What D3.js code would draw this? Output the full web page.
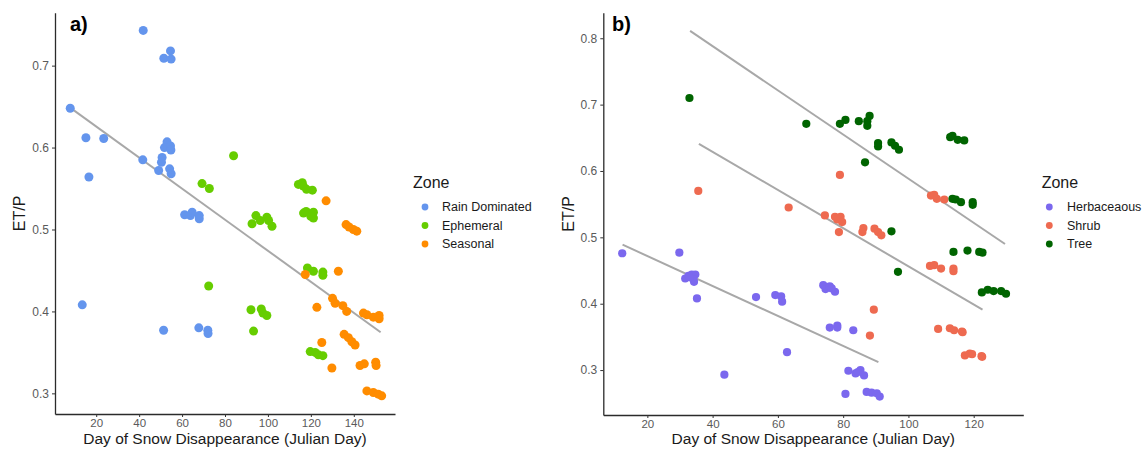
<!DOCTYPE html>
<html>
<head>
<meta charset="utf-8">
<script src="https://cdn.jsdelivr.net/npm/d3@7"></script>
<style>
  html, body { margin: 0; padding: 0; background: #fff; }
  svg { display: block; font-family: "Liberation Sans", Arial, sans-serif; }
</style>
</head>
<body>
<svg id="chart" width="1143" height="450"></svg>
<script>
// ---- Panel a: hydrologic zones, [day of snow disappearance, ET/P] ----
const rainDominated = [
  [7.9,0.648],[15.2,0.612],[23.5,0.611],[16.6,0.564],[13.5,0.408],[41.9,0.743],
  [41.7,0.585],[51.4,0.377],[51.5,0.709],[54.6,0.718],[54.9,0.708],[53.0,0.607],
  [51.8,0.600],[54.6,0.602],[54.8,0.597],[50.7,0.588],[50.4,0.582],[49.1,0.572],
  [54.2,0.574],[54.9,0.568],[61.2,0.518],[63.9,0.517],[64.7,0.521],[68.0,0.517],
  [68.0,0.513],[67.8,0.380],[72.0,0.377],[72.1,0.373]
];
const ephemeral = [
  [84.0,0.590],[69.3,0.556],[72.7,0.550],[72.4,0.431],
  [114.2,0.555],[116.0,0.557],[116.5,0.553],[118.0,0.549],[120.7,0.548],
  [116.6,0.520],[117.8,0.522],[121.2,0.521],[121.2,0.514],[120.0,0.516],
  [92.6,0.507],[94.4,0.517],[96.4,0.511],[99.5,0.515],[100.3,0.511],[101.9,0.504],
  [118.4,0.453],[121.2,0.449],[125.6,0.448],[125.6,0.444],
  [92.1,0.402],[96.9,0.403],[97.7,0.398],[99.5,0.395],[93.3,0.376],
  [119.7,0.351],[122.0,0.350],[123.5,0.347],[125.6,0.346]
];
const seasonal = [
  [127.1,0.535],[136.4,0.506],[137.8,0.503],[139.8,0.500],[141.4,0.498],
  [117.4,0.445],[132.8,0.449],
  [130.1,0.416],[131.3,0.410],[134.9,0.407],[136.7,0.400],[122.8,0.405],
  [144.5,0.398],[146.1,0.396],[149.1,0.393],[151.8,0.395],[151.8,0.391],
  [135.5,0.372],[137.5,0.368],[139.1,0.363],[140.6,0.359],[125.1,0.362],
  [129.8,0.331],[142.9,0.334],[144.9,0.336],[150.2,0.338],[150.4,0.334],
  [146.1,0.303],[149.1,0.301],[151.4,0.299],[153.0,0.297]
];
// linear fit across all zones, as end points
const fitZones = [[8.0,0.6485],[152.5,0.3745]];

// ---- Panel b: vegetation zones ----
const herbaceous = [
  [12.3,0.476],[29.8,0.477],[31.6,0.438],[32.6,0.442],[33.6,0.444],[34.7,0.444],
  [34.1,0.437],[34.3,0.433],[33.0,0.440],[35.2,0.408],[43.6,0.293],[53.3,0.410],
  [59.2,0.413],[61.0,0.411],[61.3,0.403],[62.8,0.327],
  [73.9,0.428],[74.6,0.422],[75.9,0.426],[77.5,0.418],[76.5,0.423],
  [75.9,0.364],[78.2,0.367],[78.2,0.364],[83.1,0.360],
  [81.6,0.299],[83.8,0.295],[85.3,0.300],[86.4,0.292],[84.5,0.297],
  [80.7,0.264],[87.2,0.267],[88.7,0.266],[90.3,0.265],[91.2,0.260]
];
const shrub = [
  [35.6,0.570],[63.3,0.545],[79.0,0.594],
  [106.9,0.563],[107.9,0.564],[108.7,0.558],[111.0,0.557],
  [74.4,0.533],[77.5,0.531],[79.2,0.531],[78.2,0.527],[79.7,0.523],[78.7,0.508],
  [86.2,0.514],[85.9,0.508],[89.6,0.513],[90.7,0.508],[91.7,0.503],
  [106.6,0.457],[107.9,0.458],[110.0,0.453],[113.8,0.453],[113.8,0.449],
  [89.4,0.391],[88.2,0.352],
  [109.1,0.362],[112.7,0.363],[114.0,0.360],[116.4,0.358],[116.6,0.357],
  [117.3,0.322],[118.8,0.325],[119.5,0.324],[122.4,0.321],[122.6,0.320]
];
const tree = [
  [32.9,0.710],[68.7,0.671],[79.0,0.671],[80.7,0.677],[84.8,0.675],[87.4,0.668],
  [88.1,0.683],[87.4,0.675],[90.7,0.642],[90.7,0.637],[94.8,0.643],[95.9,0.638],
  [97.1,0.632],[86.7,0.613],
  [112.8,0.651],[113.5,0.653],[115.1,0.647],[117.1,0.646],
  [113.5,0.558],[114.5,0.557],[116.1,0.553],[119.7,0.553],[119.7,0.549],
  [94.8,0.509],[113.8,0.478],[118.1,0.480],[121.7,0.478],[122.7,0.477],
  [96.8,0.448],
  [122.5,0.417],[124.3,0.421],[126.1,0.419],[128.4,0.419],[129.9,0.415]
];
const fitHerbaceous = [[12.4,0.489],[90.8,0.312]];
const fitShrub = [[35.8,0.641],[122.7,0.391]];
const fitTree = [[33.1,0.811],[129.6,0.490]];

// ---- axis ticks and labels ----
const ticksAX = [20,40,60,80,100,120,140];
const ticksAY = [0.3,0.4,0.5,0.6,0.7];
const ticksBX = [20,40,60,80,100,120];
const ticksBY = [0.3,0.4,0.5,0.6,0.7,0.8];
const legendA = ["Rain Dominated","Ephemeral","Seasonal"];
const legendB = ["Herbaceaous","Shrub","Tree"];
const xTitle = "Day of Snow Disappearance (Julian Day)";
const yTitle = "ET/P";

const svg = d3.select("#chart");
const fitColor = "#a8a8a8";

function panel(cfg) {
  const x = d3.scaleLinear().domain(cfg.xDomain).range([cfg.left, cfg.right]);
  const y = d3.scaleLinear().domain(cfg.yDomain).range([cfg.bottom, cfg.top]);
  const g = svg.append("g");

  // axes
  const xAxis = d3.axisBottom(x).tickValues(cfg.xTicks).tickSize(3).tickSizeOuter(0).tickPadding(1.5)
    .tickFormat(d3.format("d"));
  const yAxis = d3.axisLeft(y).tickValues(cfg.yTicks).tickSize(3).tickSizeOuter(0).tickPadding(3)
    .tickFormat(d3.format(".1f"));
  const gx = g.append("g").attr("transform", `translate(0,${cfg.bottom})`).call(xAxis);
  const gy = g.append("g").attr("transform", `translate(${cfg.left},0)`).call(yAxis);
  [gx, gy].forEach(a => {
    a.select(".domain").attr("stroke", "#2b2b2b").attr("stroke-width", 1.3);
    a.selectAll(".tick line").attr("stroke", "#333").attr("stroke-width", 1);
    a.selectAll(".tick text").attr("fill", "#5a5a5a")
      .style("font-family", "Liberation Sans, Arial, sans-serif");
  });
  gx.selectAll(".tick text").style("font-size", "11.5px");
  gy.selectAll(".tick text").style("font-size", "12px");

  // fitted lines
  const line = d3.line().x(d => x(d[0])).y(d => y(d[1]));
  cfg.fits.forEach(f => {
    g.append("path").attr("d", line(f)).attr("fill", "none")
      .attr("stroke", fitColor).attr("stroke-width", 2);
  });

  // points
  cfg.series.forEach(s => {
    g.append("g").selectAll("circle").data(s.data).join("circle")
      .attr("cx", d => x(d[0])).attr("cy", d => y(d[1]))
      .attr("r", cfg.r).attr("fill", s.color);
  });

  // axis titles
  g.append("text").attr("x", (cfg.left + cfg.right) / 2).attr("y", 443.5)
    .attr("text-anchor", "middle").attr("fill", "#1a1a1a").style("font-size", "15.5px").text(xTitle);
  g.append("text").attr("transform", `translate(${cfg.yTitleX},${(cfg.top + cfg.bottom) / 2}) rotate(-90)`)
    .attr("text-anchor", "middle").attr("dy", "0.35em").attr("fill", "#1a1a1a")
    .style("font-size", "16px").text(yTitle);

  // panel tag
  g.append("text").attr("x", cfg.tagX).attr("y", 31).attr("fill", "#000")
    .style("font-size", "20px").style("font-weight", "bold").text(cfg.tag);

  // legend
  const lg = g.append("g");
  lg.append("text").attr("x", cfg.legX).attr("y", 188).attr("fill", "#1a1a1a")
    .style("font-size", "16px").text("Zone");
  cfg.series.forEach((s, i) => {
    const cy = 207 + i * 18.5;
    lg.append("circle").attr("cx", cfg.legX + cfg.legDot).attr("cy", cy).attr("r", 3.4).attr("fill", s.color);
    lg.append("text").attr("x", cfg.legX + cfg.legText).attr("y", cy).attr("dy", "0.35em")
      .attr("fill", "#1a1a1a").style("font-size", "12.5px").text(cfg.labels[i]);
  });
}

panel({
  tag: "a)", tagX: 70,
  xDomain: [0.8, 159.2], yDomain: [0.2748, 0.7646],
  left: 55, right: 395, top: 12.7, bottom: 414,
  xTicks: ticksAX, yTicks: ticksAY, r: 4.5, yTitleX: 19,
  fits: [fitZones],
  series: [
    { data: rainDominated, color: "#6495ED" },
    { data: ephemeral, color: "#66CD00" },
    { data: seasonal, color: "#FF8C00" }
  ],
  labels: legendA, legX: 413, legDot: 12, legText: 29
});

panel({
  tag: "b)", tagX: 612,
  xDomain: [6.5, 135.2], yDomain: [0.2323, 0.8385],
  left: 603.3, right: 1023.3, top: 12.7, bottom: 415,
  xTicks: ticksBX, yTicks: ticksBY, r: 4.1, yTitleX: 568,
  fits: [fitHerbaceous, fitShrub, fitTree],
  series: [
    { data: herbaceous, color: "#7B68EE" },
    { data: shrub, color: "#EE6A50" },
    { data: tree, color: "#006400" }
  ],
  labels: legendB, legX: 1041.7, legDot: 7.6, legText: 25.3
});
</script>
</body>
</html>
